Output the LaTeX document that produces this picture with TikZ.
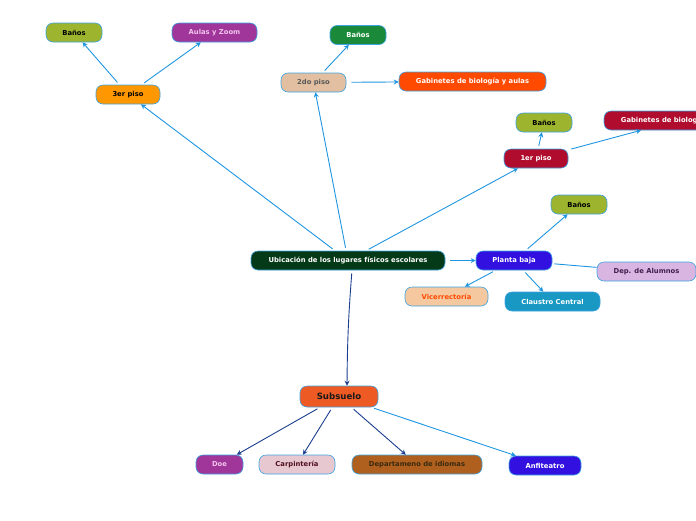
\documentclass[tikz,border=0pt]{standalone}
\usepackage{fontspec}
\setmainfont{DejaVu Sans}
\usepackage{xcolor}
\usetikzlibrary{arrows.meta}
\definecolor{edgeblue}{HTML}{3DA3E2}
\definecolor{linkblue}{HTML}{1F95E0}
\definecolor{deepblue}{HTML}{1B3E8E}
\definecolor{mmolive}{HTML}{9DB42F}
\definecolor{mmpurple}{HTML}{A0359A}
\definecolor{mmpink}{HTML}{F2C4EC}
\definecolor{mmorange}{HTML}{FF9800}
\definecolor{mmgreen}{HTML}{1A8A3A}
\definecolor{mmtan}{HTML}{E2BFA0}
\definecolor{mmred}{HTML}{FF4A00}
\definecolor{mmcrimson}{HTML}{B00C2E}
\definecolor{mmdark}{HTML}{053A18}
\definecolor{mmviolet}{HTML}{3210E0}
\definecolor{mmlilac}{HTML}{D9B5E2}
\definecolor{mmplum}{HTML}{40204E}
\definecolor{mmpeach}{HTML}{F5C8A0}
\definecolor{mmteal}{HTML}{1898C2}
\definecolor{mmrust}{HTML}{EE5A24}
\definecolor{mmrose}{HTML}{E8C8D0}
\definecolor{mmmaroon}{HTML}{501020}
\definecolor{mmbrown}{HTML}{B0601E}
\definecolor{mmsoil}{HTML}{3A2A10}

\begin{document}
\begin{tikzpicture}[x=1pt, y=-1pt,
  topic/.style 2 args={rectangle, rounded corners=7pt, draw=edgeblue, line width=0.6pt,
    fill=#1, text=#2, font=\fontsize{6.8}{7}\selectfont\bfseries,
    minimum height=19pt, inner sep=0pt},
  link/.style={draw=linkblue, line width=0.9pt, -{Stealth[length=5pt,width=5pt]}, shorten <=3pt},
  sublink/.style={link, draw=deepblue},
]
  \useasboundingbox (0,0) rectangle (696,520);

  \node[topic={mmdark}{white}, minimum width=194pt] (root) at (348,260.5) {Ubicación de los lugares físicos escolares};

  \node[topic={mmorange}{black}, minimum width=64pt] (p3) at (128,94.5) {3er piso};
  \node[topic={mmolive}{black}, minimum width=56pt] (p3ban) at (74,32.5) {Baños};
  \node[topic={mmpurple}{mmpink}, minimum width=85pt] (p3aul) at (214.5,32.5) {Aulas y Zoom};

  \node[topic={mmtan}{black!65}, minimum width=65pt] (p2) at (313.5,82.5) {2do piso};
  \node[topic={mmgreen}{white}, minimum width=56pt] (p2ban) at (358,35) {Baños};
  \node[topic={mmred}{white}, minimum width=147pt] (p2gab) at (472.5,81.5) {Gabinetes de biología y aulas};

  \node[topic={mmcrimson}{white}, minimum width=64pt] (p1) at (536,158.5) {1er piso};
  \node[topic={mmolive}{black}, minimum width=56pt] (p1ban) at (544,122.5) {Baños};
  \node[topic={mmcrimson}{white}, minimum width=147pt] (p1gab) at (677.5,120.5) {Gabinetes de biología y aulas};

  \node[topic={mmviolet}{white}, minimum width=76pt] (pb) at (514,260.5) {Planta baja};
  \node[topic={mmolive}{black}, minimum width=56pt] (pbban) at (579,204.5) {Baños};
  \node[topic={mmlilac}{mmplum}, minimum width=99pt] (pbdep) at (646.5,271.5) {Dep. de Alumnos};
  \node[topic={mmpeach}{mmred}, minimum width=83pt] (pbvic) at (446.5,296.5) {Vicerrectoría};
  \node[topic={mmteal}{white}, minimum width=95pt] (pbcla) at (552.5,301.5) {Claustro Central};

  \node[topic={mmrust}{black!90}, minimum width=78pt, minimum height=21pt,
    font=\fontsize{8.6}{9}\selectfont\bfseries] (sub) at (339,396.5) {Subsuelo};
  \node[topic={mmpurple}{mmpink}, minimum width=47pt] (subdoe) at (219.5,464.5) {Doe};
  \node[topic={mmrose}{mmmaroon}, minimum width=76pt] (subcar) at (297,464.5) {Carpintería};
  \node[topic={mmbrown}{mmsoil}, minimum width=130pt] (subidi) at (417,464.5) {Departameno de idiomas};
  \node[topic={mmviolet}{white}, minimum width=72pt] (subanf) at (545,465.5) {Anfiteatro};

  \draw[link] (root) -- (p3);
  \draw[link] (root) -- (p2);
  \draw[link] (root) -- (p1);
  \draw[link, shorten <=5pt] (root) -- (pb);
  \draw[sublink] ([xshift=4pt]root.south) to[bend right=2] ([xshift=8pt]sub.north);

  \draw[link] (p3) -- (p3ban);
  \draw[link] (p3) -- (p3aul);
  \draw[link] (p2) -- (p2ban);
  \draw[link, shorten <=5pt] (p2) -- (p2gab);
  \draw[link] (p1) -- (p1ban);
  \draw[link] (p1) -- (p1gab);
  \draw[link] (pb) -- (pbban);
  \draw[draw=linkblue, line width=0.9pt, shorten <=2pt] (pb) -- (pbdep);
  \draw[link] (pb) -- (pbvic);
  \draw[link] (pb) -- (pbcla);

  \draw[sublink] (sub) -- (subdoe);
  \draw[sublink] (sub) -- (subcar);
  \draw[sublink] (sub) -- (subidi);
  \draw[link] (sub) -- (subanf);
\end{tikzpicture}
\end{document}
